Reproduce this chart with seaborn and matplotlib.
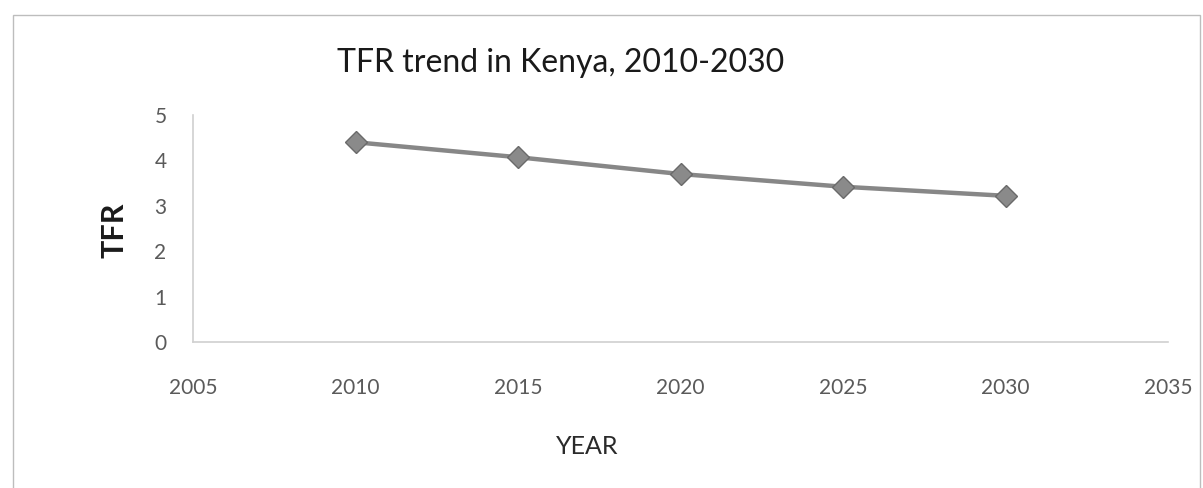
import matplotlib
matplotlib.use("Agg")
import matplotlib.pyplot as plt
import seaborn as sns
import pandas as pd

years = [2010, 2015, 2020, 2025, 2030]
tfr = [4.4, 4.07, 3.7, 3.42, 3.22]
x_ticks = [2005, 2010, 2015, 2020, 2025, 2030, 2035]
y_ticks = [0, 1, 2, 3, 4, 5]

sns.set_theme(style="white")
plt.rcParams['font.family'] = ['Lato', 'DejaVu Sans']

df = pd.DataFrame({"YEAR": years, "TFR": tfr})

W, H = 1203, 488
fig = plt.figure(figsize=(W / 100, H / 100), dpi=100)
L, R, T, B = 193, 1168, 115, 342
ax = fig.add_axes([L / W, 1 - B / H, (R - L) / W, (B - T) / H])

sns.lineplot(data=df, x="YEAR", y="TFR", ax=ax, color="#878787", linewidth=3.2,
             marker="D", markersize=11, markerfacecolor="#8a8a8a",
             markeredgecolor="#6a6a6a", markeredgewidth=1)

ax.set_xlim(2005, 2035)
ax.set_ylim(0, 5)
ax.set_xticks(x_ticks)
ax.set_yticks(y_ticks)
ax.tick_params(axis='both', length=0, labelsize=15, labelcolor="#5a5a5a")
ax.tick_params(axis='x', pad=26)
ax.tick_params(axis='y', pad=19)
for s in ["top", "right"]:
    ax.spines[s].set_visible(False)
for s in ["left", "bottom"]:
    ax.spines[s].set_color("#d0d0d0")
    ax.spines[s].set_linewidth(1.2)

ax.set_xlabel("YEAR", fontsize=18, color="#2a2a2a")
ax.xaxis.label.set_va("center")
ax.xaxis.set_label_coords((587 - L) / (R - L), (B - 447) / (B - T))

ax.set_ylabel("TFR", fontsize=22, color="#1a1a1a", fontweight="bold")
ax.yaxis.label.set_va("center")
ax.yaxis.set_label_coords((114 - L) / (R - L), (B - 230) / (B - T))

fig.text(561 / W, 1 - 63 / H, "TFR trend in Kenya, 2010-2030", fontsize=23,
         color="#1a1a1a", ha="center", va="center")

# outer chart border
border = plt.Rectangle((13 / W, -0.01), 1 - 16 / W, 1 - 15 / H + 0.01,
                       transform=fig.transFigure, fill=False,
                       edgecolor="#bdbdbd", linewidth=1)
fig.patches.append(border)

fig.savefig("out.png", dpi=100)
